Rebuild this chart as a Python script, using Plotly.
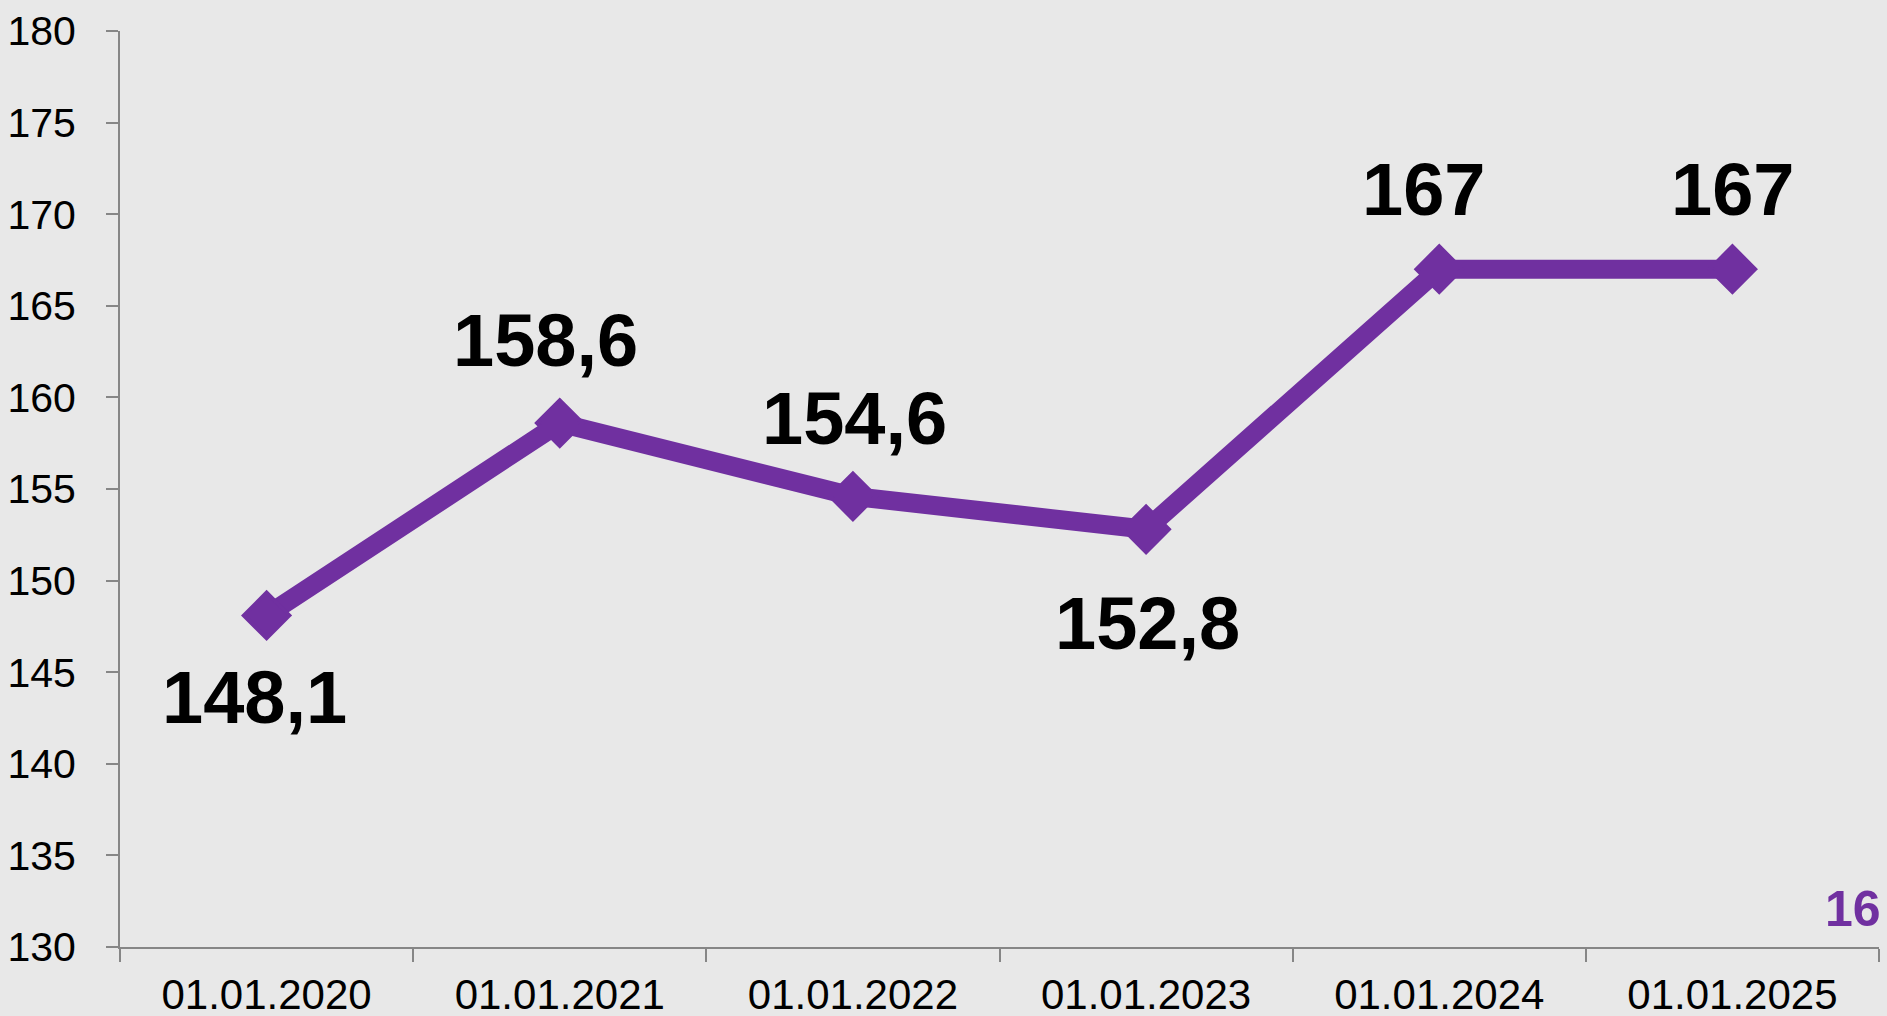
"""
Line chart — average value on the first day of each year.
"""
import plotly.graph_objects as go

dates = ['01.01.2020', '01.01.2021', '01.01.2022', '01.01.2023', '01.01.2024', '01.01.2025']
values = [148.1, 158.6, 154.6, 152.8, 167, 167]
labels = ['148,1', '158,6', '154,6', '152,8', '167', '167']
y_ticks = [130, 135, 140, 145, 150, 155, 160, 165, 170, 175, 180]

PURPLE = '#7030A0'
AXIS = '#868686'
FONT = 'Arial, Liberation Sans, sans-serif'

# label placement: pixels above (+) or below (-) the point
label_dy = [-82, 83, 78, -94, 80, 80]
label_dx = [-12, -14, 2, 1, -16, 0]

fig = go.Figure()
fig.add_trace(go.Scatter(
    x=dates, y=values,
    mode='lines+markers',
    line=dict(color=PURPLE, width=19),
    marker=dict(symbol='diamond', size=35, color=PURPLE,
                line=dict(color=PURPLE, width=4)),
    hoverinfo='x+y',
))

for d, v, t, dy, dx in zip(dates, values, labels, label_dy, label_dx):
    fig.add_annotation(
        x=d, y=v, text=t, showarrow=False,
        yshift=dy, xshift=dx,
        font=dict(family=FONT, size=74, color='black', weight='bold'),
    )

# page number in the corner
fig.add_annotation(
    xref='paper', yref='paper', x=1.002, y=0.042, xanchor='right', yanchor='middle',
    text='16', showarrow=False,
    font=dict(family=FONT, size=50, color=PURPLE, weight='bold'),
)

fig.update_layout(
    width=1887, height=1016,
    margin=dict(l=120, r=8, t=31, b=69),
    paper_bgcolor='#E8E8E8',
    plot_bgcolor='#E8E8E8',
    showlegend=False,
    font=dict(family=FONT, size=41, color='black'),
    xaxis=dict(
        type='category', range=[-0.5, 5.5], automargin=False,
        tickson='boundaries', ticks='outside', ticklen=13, tickwidth=2, tickcolor=AXIS,
        showline=True, linecolor=AXIS, linewidth=2, showgrid=False, zeroline=False,
        tickfont=dict(size=42), ticklabelstandoff=10,
    ),
    yaxis=dict(
        range=[130, 180], tickvals=y_ticks, automargin=False,
        ticks='outside', ticklen=12, tickwidth=2, tickcolor=AXIS,
        showline=True, linecolor=AXIS, linewidth=2, showgrid=False, zeroline=False,
        tickfont=dict(size=41), ticklabelstandoff=22,
    ),
)

# page has a default body margin; drop it so the figure fills the window
fig.write_html("out.html", config={'displayModeBar': False},
               post_script="document.body.style.margin='0';")
